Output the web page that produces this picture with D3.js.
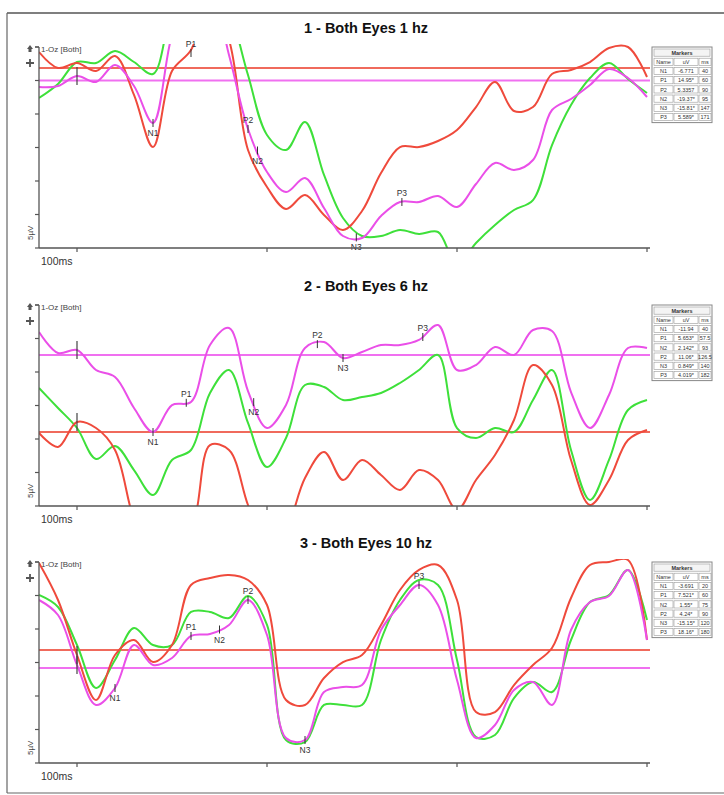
<!DOCTYPE html>
<html><head><meta charset="utf-8">
<script src="https://cdn.jsdelivr.net/npm/d3@7"></script>
<style>body{margin:0;background:#fff}svg{display:block;font-family:"Liberation Sans",Arial,sans-serif}</style>
</head><body><svg id="c" width="724" height="795"></svg>
<script>
// ---- data (time in ms, amplitude in µV) ----
const times = [-20,-10,0,10,20,30,40,50,60,70,80,90,100,110,120,130,140,150,160,170,180,190,200,210,220,230,240,250,260,270,280,290,300];

const p1Red = [4.25,1.87,2.61,1.42,3.66,-2.16,-9.93,1.42,4.55,12,6.04,-10.37,-15.9,-19.18,-17.09,-20.07,-22.31,-19.48,-13.81,-9.93,-9.93,-9.03,-7.39,-3.96,-0.22,-4.55,-3.96,0.97,1.57,2.76,4.85,5.0,0.52];
const p1Green = [-2.61,-0.52,2.76,2.61,4.4,2.76,0.97,10.5,15,15,10.5,0.82,-8.13,-10.37,-6.19,-14.1,-20.52,-23.21,-23.21,-22.31,-22.91,-22.61,-27.54,-24.25,-21.57,-19.33,-17.84,-9.63,-3.66,0.37,2.61,0.22,-1.87];
const p1Magenta = [-0.97,-0.82,0.67,-0.22,2.31,-0.82,-6.34,6.79,13.5,13.5,3.81,-7.24,-13.66,-16.64,-14.55,-19.03,-23.21,-23.51,-20.22,-18.13,-18.13,-17.24,-18.88,-15.45,-12.31,-13.36,-11.87,-4.4,-2.76,-0.67,1.72,0.37,-2.46];

const p2Red = [-14.1,-16.19,-12.46,-13.36,-16.64,-27.09,-33.06,-28.58,-27.84,-15.9,-16.64,-24.85,-31.57,-28.58,-20.82,-16.94,-21.12,-18.13,-20.37,-22.61,-19.63,-21.12,-25.6,-21.12,-17.39,-12.16,-3.96,-6.94,-18.13,-24.85,-21.12,-15.15,-13.66];
const p2Green = [-7.39,-10.37,-13.36,-17.99,-16.04,-19.63,-23.36,-18.13,-16.64,-8.13,-4.7,-12.61,-19.18,-14.85,-6.94,-7.24,-9.18,-8.73,-8.13,-6.64,-4.7,-2.46,-13.36,-14.85,-13.36,-13.96,-9.18,-4.7,-16.64,-24.1,-18.13,-10.67,-9.18];
const p2Magenta = [0.97,-2.16,-1.72,-4.7,-5.75,-10.37,-13.96,-9.93,-9.48,-0.97,1.57,-7.84,-13.36,-9.93,-1.42,-0.52,-2.91,-2.01,-0.97,-0.97,-0.22,2.01,-4.7,-3.96,-1.27,-2.46,1.27,1.12,-7.99,-13.36,-8.43,-1.42,-1.42];

const p3Red = [4.85,-0.67,-8.88,-15.6,-8.88,-6.64,-9.93,-7.39,1.57,2.61,3.06,2.31,-1.42,-15.6,-16.34,-12.31,-9.93,-8.88,-4.4,0.82,3.81,4.55,-0.67,-17.39,-17.39,-13.36,-10.37,-7.84,-0.37,4.55,5.0,5.3,-6.64];
const p3Green = [0.07,-1.72,-7.39,-13.81,-9.63,-4.85,-7.39,-7.39,-2.46,-2.46,-3.36,-0.07,-4.4,-21.57,-21.87,-16.34,-16.34,-16.34,-6.64,-0.67,2.31,1.57,-9.63,-21.12,-20.82,-15.3,-12.91,-14.4,-6.64,-0.97,0.07,3.81,-3.66];
const p3Magenta = [-0.67,-2.91,-10.37,-16.34,-13.81,-7.39,-10.37,-9.33,-6.04,-5.75,-4.4,-0.67,-5.9,-21.27,-21.57,-14.4,-13.66,-13.36,-5.15,-1.42,1.57,-1.42,-12.61,-21.27,-19.33,-14.1,-12.91,-16.34,-5.15,-0.97,-0.07,3.81,-6.64];

const panelTitles = ["1 - Both Eyes 1 hz","2 - Both Eyes 6 hz","3 - Both Eyes 10 hz"];
const redBaselines = [1.87,-13.96,-8.13];
const magentaBaselines = [0,-2.46,-10.82];

const markerNames = [["N1","P1","P2","N2","N3","P3"],["N1","P1","N2","P2","N3","P3"],["N1","P1","N2","P2","N3","P3"]];
const markerUV = [["-6.771","14.95*","5.3357","-19.37*","-15.81*","5.589*"],["-11.94","5.653*","2.142*","11.06*","0.849*","4.019*"],["-3.691","7.521*","1.55*","4.24*","-15.15*","18.16*"]];
const markerMs = [[40,60,90,95,147,171],[40,57.5,93,126.5,140,182],[20,60,75,90,120,180]];

const yTicks = [5,0,-5,-10,-15,-20,-25];
const xTicks = [0,100,200,300];

// ---- drawing ----
const svg = d3.select("#c");
const tops = [47,305,562];
const ph = 201;
const x = d3.scaleLinear().domain([-20,300]).range([39,647]);
const COL = {red:"#ef4a3c", green:"#3ee03a", mag:"#ea4fe8"};

// outer frame
svg.append("line").attr("x1",7).attr("x2",724).attr("y1",13).attr("y2",13).attr("stroke","#555").attr("stroke-width",1.5);
svg.append("line").attr("x1",7).attr("x2",7).attr("y1",13).attr("y2",793).attr("stroke","#666").attr("stroke-width",1.2);
svg.append("line").attr("x1",7).attr("x2",724).attr("y1",793).attr("y2",793).attr("stroke","#666").attr("stroke-width",1.2);

const data = [[p1Red,p1Green,p1Magenta],[p2Red,p2Green,p2Magenta],[p3Red,p3Green,p3Magenta]];

tops.forEach((top,i)=>{
  const bottom = top+ph;
  const y = d3.scaleLinear().domain([5,-25]).range([top,bottom]);
  const g = svg.append("g");
  g.append("text").attr("x",366).attr("y",top-14).attr("text-anchor","middle")
    .attr("font-size",14.5).attr("font-weight","bold").attr("fill","#111").text(panelTitles[i]);

  const cid = "clip"+i;
  svg.append("clipPath").attr("id",cid).append("rect").attr("x",39).attr("y",top-3).attr("width",611).attr("height",ph+3);

  // baselines
  g.append("line").attr("x1",39).attr("x2",650).attr("y1",y(redBaselines[i])).attr("y2",y(redBaselines[i]))
    .attr("stroke","#f06a5c").attr("stroke-width",2);
  g.append("line").attr("x1",39).attr("x2",650).attr("y1",y(magentaBaselines[i])).attr("y2",y(magentaBaselines[i]))
    .attr("stroke","#f070f0").attr("stroke-width",2);

  const line = d3.line().x((d,k)=>x(times[k])).y(d=>y(d)).curve(d3.curveCatmullRom.alpha(0.5));
  const [r,gr,m] = data[i];
  const tg = g.append("g").attr("clip-path",`url(#${cid})`);
  tg.append("path").datum(gr).attr("d",line).attr("fill","none").attr("stroke",COL.green).attr("stroke-width",2);
  tg.append("path").datum(r).attr("d",line).attr("fill","none").attr("stroke",COL.red).attr("stroke-width",2);
  tg.append("path").datum(m).attr("d",line).attr("fill","none").attr("stroke",COL.mag).attr("stroke-width",2);

  // stimulus marks at 0 ms
  const interpM = d3.scaleLinear().domain(times).range(m);
  const interpR = d3.scaleLinear().domain(times).range(r);
  g.append("line").attr("x1",x(0)).attr("x2",x(0)).attr("y1",y(interpM(0))-9).attr("y2",y(interpM(0))+9).attr("stroke","#444").attr("stroke-width",1.2);
  if(i>0){
    g.append("line").attr("x1",x(0)).attr("x2",x(0)).attr("y1",y(interpR(0))-9).attr("y2",y(interpR(0))+9).attr("stroke","#444").attr("stroke-width",1.2);
  }

  // markers on magenta trace
  markerNames[i].forEach((nm,k)=>{
    const t = markerMs[i][k];
    let yy = y(interpM(t));
    yy = Math.max(top+6, Math.min(bottom-6, yy));
    g.append("line").attr("x1",x(t)).attr("x2",x(t)).attr("y1",yy-4).attr("y2",yy+4).attr("stroke","#333").attr("stroke-width",1);
    const isN = nm[0]==="N";
    g.append("text").attr("x",x(t)).attr("y", isN? yy+13 : yy-6).attr("text-anchor","middle")
      .attr("font-size",8.5).attr("fill","#333").text(nm);
  });

  // axes
  const ax = g.append("g").attr("stroke","#555").attr("fill","none");
  ax.append("line").attr("x1",39).attr("x2",39).attr("y1",top).attr("y2",bottom).attr("stroke-width",1.3);
  ax.append("line").attr("x1",39).attr("x2",650).attr("y1",bottom).attr("y2",bottom).attr("stroke-width",1.3);
  ax.append("line").attr("x1",35).attr("x2",39).attr("y1",top).attr("y2",top).attr("stroke-width",1.2);
  yTicks.forEach(v=>{
    ax.append("line").attr("x1",35).attr("x2",39).attr("y1",y(v)).attr("y2",y(v)).attr("stroke-width",1.2);
  });
  xTicks.forEach(t=>{
    ax.append("line").attr("x1",x(t)).attr("x2",x(t)).attr("y1",bottom).attr("y2",bottom+4).attr("stroke-width",1.2);
  });
  g.append("text").attr("x",41).attr("y",top+5).attr("font-size",8).attr("fill","#444").text("1-Oz [Both]");
  // icons
  g.append("path").attr("d",`M27,${top+2} l3,-4 l3,4 z M28.5,${top+2} h3 v3 h-3 z`).attr("fill","#555");
  g.append("path").attr("d",`M26,${top+16} h8 M30,${top+12} v8`).attr("stroke","#555").attr("stroke-width",1.8);
  g.append("text").attr("transform",`translate(33,${bottom-8}) rotate(-90)`).attr("font-size",8).attr("fill","#444").text("5µV");
  g.append("text").attr("x",41).attr("y",bottom+17).attr("font-size",10.5).attr("fill","#333").text("100ms");

  // marker table
  const tx=653, ty = top+1, rh=9.2, cw=[20,25,13];
  const tb = g.append("g").attr("font-size",5.5).attr("fill","#333");
  tb.append("rect").attr("x",tx-1).attr("y",ty-1).attr("width",60).attr("height",rh*8+2).attr("fill","#fff").attr("stroke","#888");
  tb.append("rect").attr("x",tx+1).attr("y",ty+1).attr("width",56).attr("height",rh-2).attr("fill","#f4f4f4").attr("stroke","#999").attr("stroke-width",0.6);
  tb.append("text").attr("x",tx+29).attr("y",ty+6.5).attr("text-anchor","middle").attr("font-weight","bold").text("Markers");
  const rows = [["Name","uV","ms"]].concat(markerNames[i].map((n,k)=>[n,markerUV[i][k],String(markerMs[i][k])]));
  rows.forEach((row,ri)=>{
    let cx=tx+1;
    row.forEach((cell,ci)=>{
      tb.append("rect").attr("x",cx).attr("y",ty+rh*(ri+1)+1).attr("width",cw[ci]-1).attr("height",rh-2)
        .attr("fill","#fff").attr("stroke","#999").attr("stroke-width",0.6);
      tb.append("text").attr("x",cx+(cw[ci]-1)/2).attr("y",ty+rh*(ri+1)+6.8).attr("text-anchor","middle").text(cell);
      cx+=cw[ci];
    });
  });
});
</script></body></html>
